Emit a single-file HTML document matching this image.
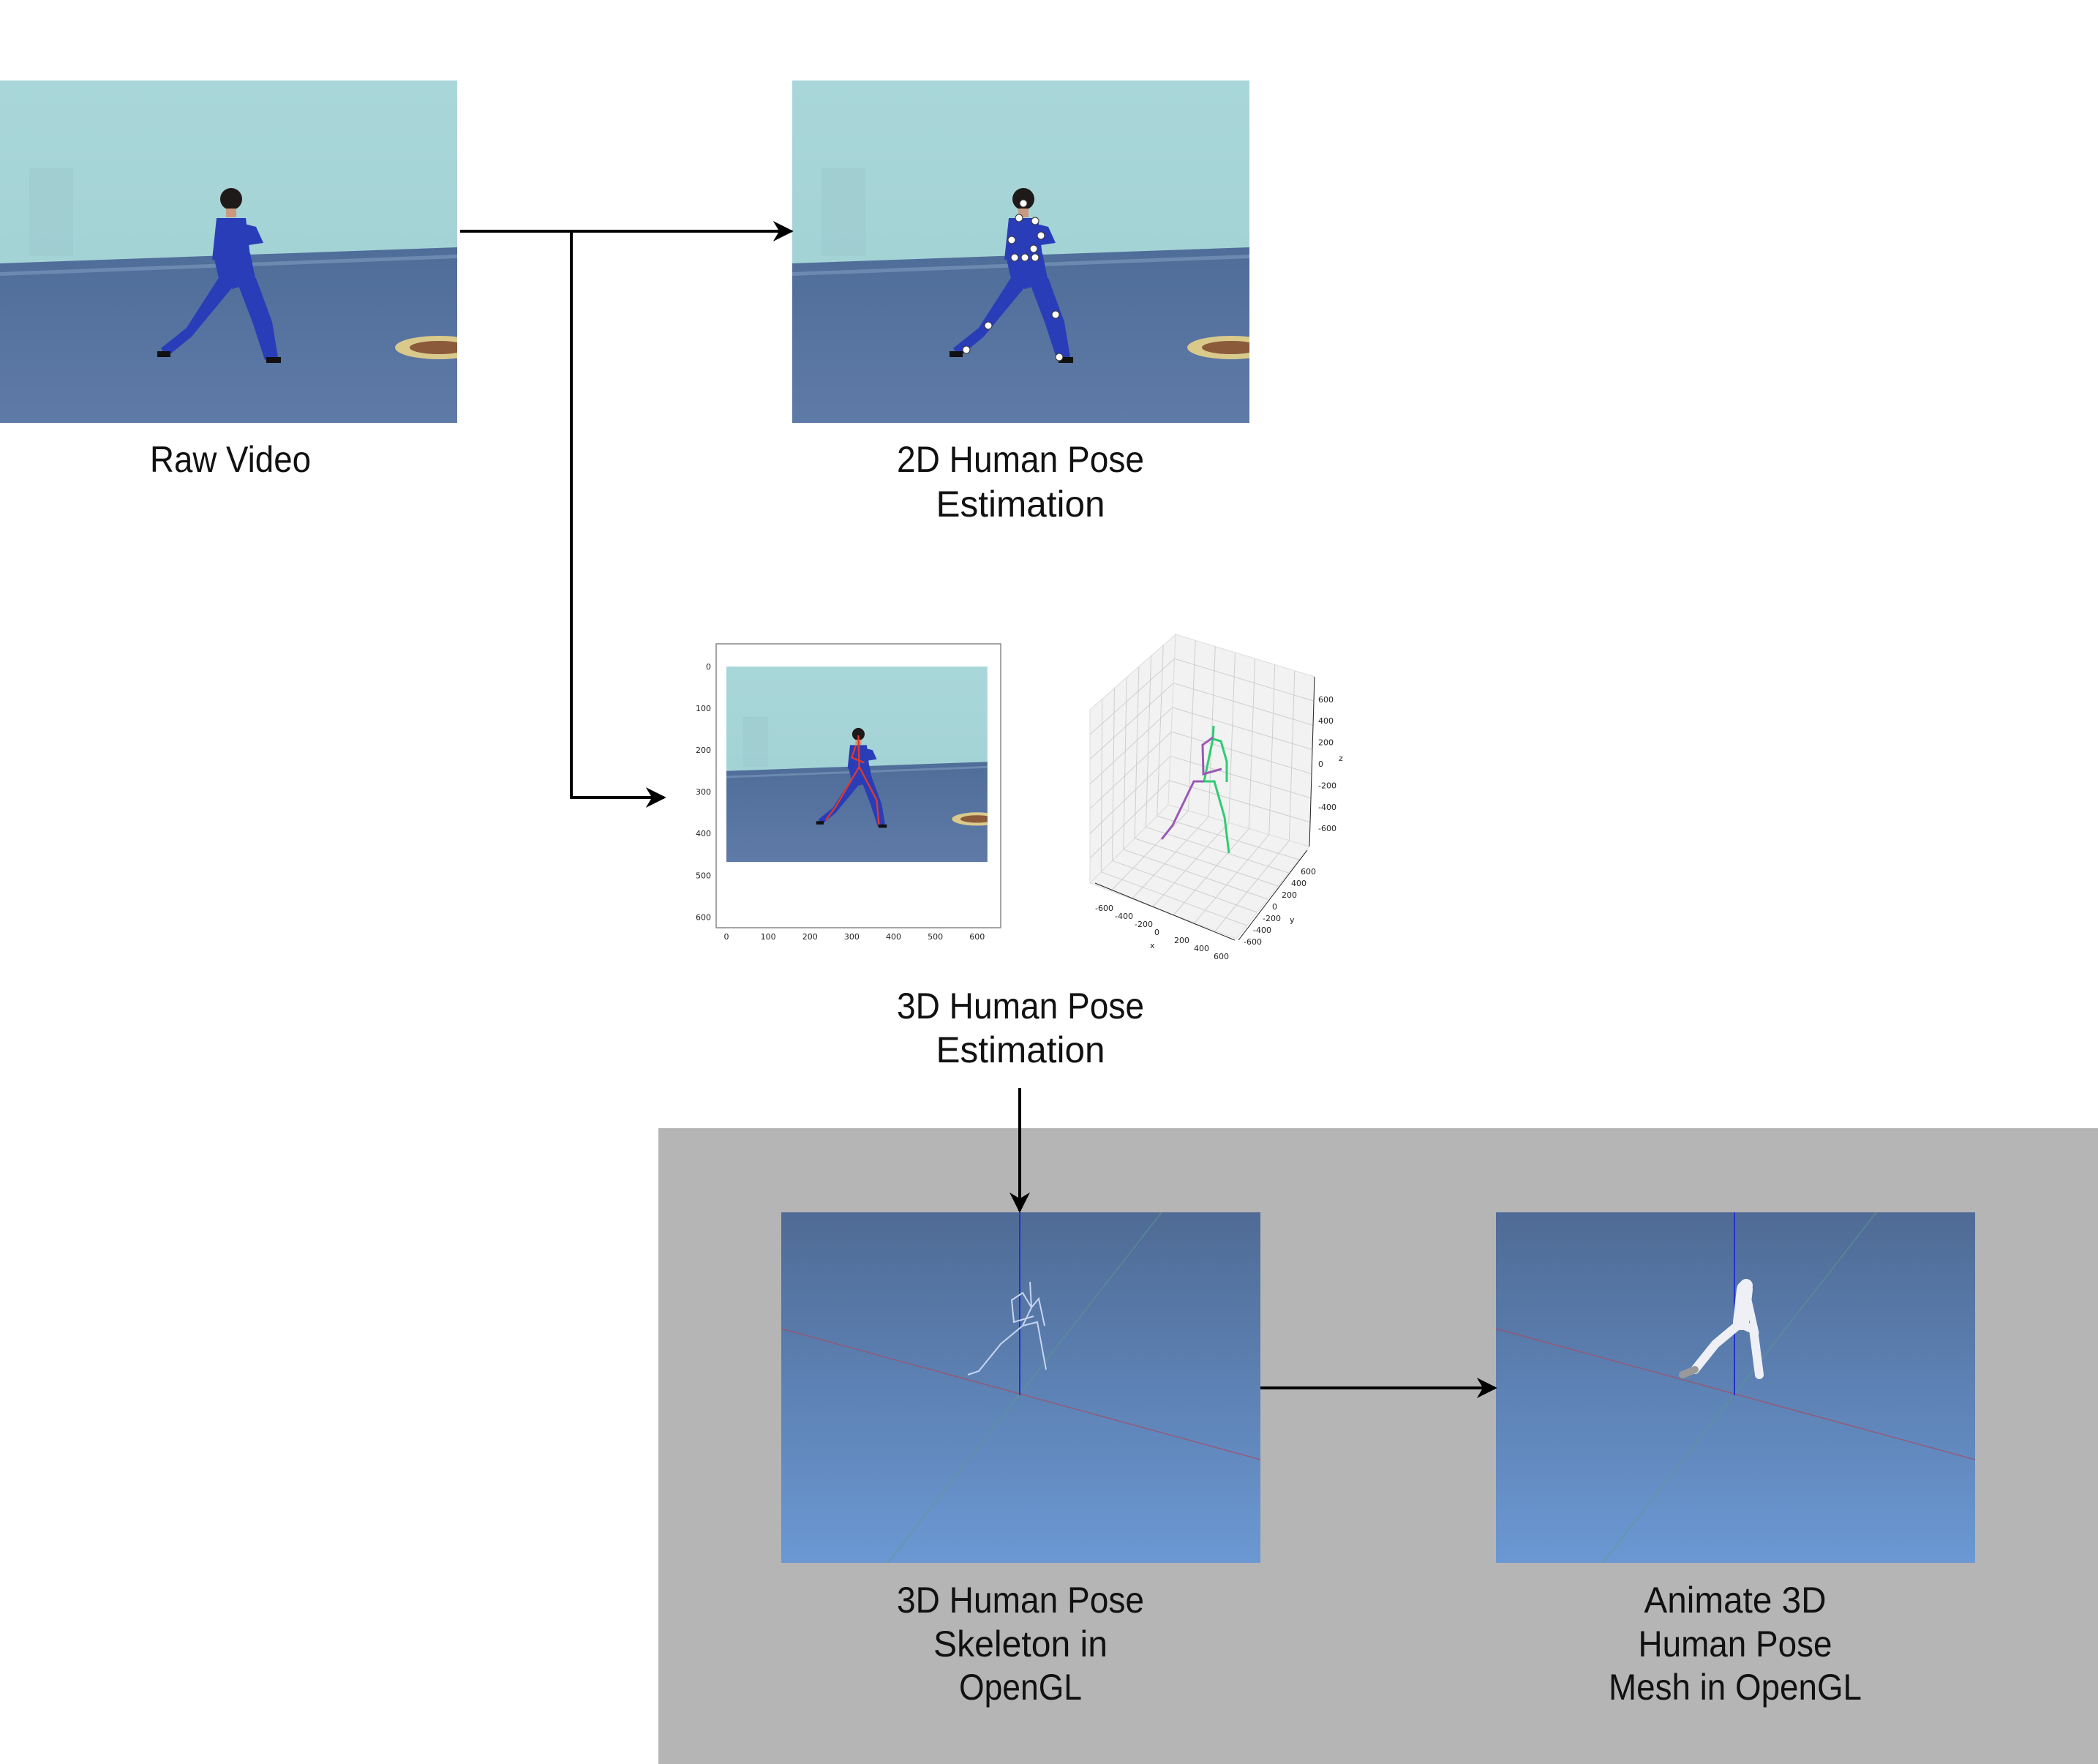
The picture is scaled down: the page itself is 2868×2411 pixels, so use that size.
<!DOCTYPE html>
<html><head><meta charset="utf-8"><style>
html,body{margin:0;padding:0;background:#fff}
svg{display:block}
text{font-family:"Liberation Sans",sans-serif}
.lbl{font-size:50px;fill:#111;text-anchor:middle}
.tk{font-family:"DejaVu Sans",sans-serif;font-size:11px;fill:#222}
</style></head><body>
<svg id="s" width="2868" height="2411" viewBox="0 0 2868 2411" xmlns="http://www.w3.org/2000/svg">
<defs>
<linearGradient id="wall" x1="0" y1="0" x2="0" y2="1"><stop offset="0" stop-color="#a9d7d9"/><stop offset="1" stop-color="#9fcfd2"/></linearGradient>
<linearGradient id="floor" x1="0" y1="0" x2="0" y2="1"><stop offset="0" stop-color="#4f6d99"/><stop offset="1" stop-color="#5f7aa6"/></linearGradient>
<linearGradient id="gl" x1="0" y1="0" x2="0" y2="1"><stop offset="0" stop-color="#4f6b95"/><stop offset="1" stop-color="#6b98d3"/></linearGradient>
<marker id="ah" viewBox="0 0 10 10" refX="9" refY="5" markerWidth="34" markerHeight="28" markerUnits="userSpaceOnUse" orient="auto"><path d="M0,0 L10,5 L0,10 L3,5 z" fill="#000"/></marker>
<clipPath id="sc"><rect width="625" height="468"/></clipPath>
<g id="scene" clip-path="url(#sc)">
<rect width="625" height="468" fill="url(#wall)"/>
<rect x="40" y="120" width="60" height="120" fill="#9cc8cb" opacity="0.5"/>
<polygon points="0,250 625,228 625,468 0,468" fill="url(#floor)"/>
<polygon points="0,262 625,238 625,243 0,267" fill="#7f9cc0" opacity="0.6"/>
<ellipse cx="600" cy="365" rx="60" ry="16" fill="#d9c98a"/>
<ellipse cx="600" cy="365" rx="40" ry="9" fill="#8a5a3a"/>
<g fill="#2a3db8">
<circle cx="316" cy="162" r="15" fill="#1f1a1a"/>
<rect x="309" y="175" width="14" height="12" fill="#c99a80"/>
<polygon points="296,188 336,188 342,240 290,245"/>
<polygon points="292,240 342,236 350,275 318,285 300,275"/>
<polygon points="300,268 320,280 262,350 228,378 220,366 255,338"/>
<polygon points="322,270 350,270 372,330 380,378 362,382 345,330"/>
<polygon points="330,195 350,200 360,222 340,225"/>
</g>
<rect x="215" y="370" width="18" height="8" fill="#111"/>
<rect x="364" y="378" width="20" height="8" fill="#111"/>
</g>
</defs>

<g transform="translate(0,110)"><use href="#scene"/></g>
<text class="lbl" x="315" y="645" textLength="220" lengthAdjust="spacingAndGlyphs">Raw Video</text>

<g transform="translate(1083,110)"><use href="#scene"/>
<g fill="#fff" stroke="#333" stroke-width="1">
<circle cx="316" cy="168" r="5"/><circle cx="310" cy="188" r="5"/><circle cx="332" cy="192" r="5"/><circle cx="300" cy="218" r="5"/><circle cx="340" cy="212" r="5"/><circle cx="330" cy="230" r="5"/><circle cx="304" cy="242" r="5"/><circle cx="318" cy="242" r="5"/><circle cx="332" cy="242" r="5"/><circle cx="268" cy="335" r="5"/><circle cx="360" cy="320" r="5"/><circle cx="238" cy="368" r="5"/><circle cx="365" cy="378" r="5"/></g></g>
<text class="lbl" x="1395" y="645" textLength="338" lengthAdjust="spacingAndGlyphs">2D Human Pose</text>
<text class="lbl" x="1395" y="706" textLength="231" lengthAdjust="spacingAndGlyphs">Estimation</text>

<g fill="none" stroke="#000" stroke-width="4">
<line x1="629" y1="316" x2="1082" y2="316" marker-end="url(#ah)"/>
<polyline points="781,316 781,1090 908,1090" marker-end="url(#ah)"/>
</g>

<g>
<rect x="979" y="880" width="389" height="388" fill="#fff" stroke="#888" stroke-width="1.5"/>
<g transform="translate(993,911) scale(0.571,0.571)"><use href="#scene"/>
<g stroke="#e03a2a" stroke-width="4" fill="none"><polyline points="316,165 318,240 262,335 238,368"/><polyline points="318,240 360,320 365,378"/><polyline points="310,188 300,218 330,230"/></g></g>
<g id="ax2d"></g>
</g>

<g id="plot3d"></g>
<text class="lbl" x="1395" y="1392" textLength="338" lengthAdjust="spacingAndGlyphs">3D Human Pose</text>
<text class="lbl" x="1395" y="1452" textLength="231" lengthAdjust="spacingAndGlyphs">Estimation</text>

<rect x="900" y="1542" width="1968" height="869" fill="#b5b5b5"/>
<g transform="translate(1068,1657)">
<rect width="655" height="479" fill="url(#gl)"/>
<line x1="146" y1="479" x2="520" y2="0" stroke="#5d9a8a" stroke-width="1.5" opacity="0.6"/>
<line x1="0" y1="159" x2="655" y2="338" stroke="#a0506a" stroke-width="1.5" opacity="0.8"/>
<line x1="326" y1="0" x2="326" y2="250" stroke="#2233cc" stroke-width="2"/>
<g stroke="#c8d4f0" stroke-width="2" fill="none"><polyline points="340,95 342,130 330,155 300,180 270,217 255,222"/><polyline points="330,155 350,150 362,215"/><polyline points="342,130 330,110 315,120 318,150 345,142"/><polyline points="342,130 352,118 360,155"/></g>
</g>
<g transform="translate(2045,1657)">
<rect width="655" height="479" fill="url(#gl)"/>
<line x1="146" y1="479" x2="520" y2="0" stroke="#5d9a8a" stroke-width="1.5" opacity="0.6"/>
<line x1="0" y1="159" x2="655" y2="338" stroke="#a0506a" stroke-width="1.5" opacity="0.8"/>
<line x1="326" y1="0" x2="326" y2="250" stroke="#2233cc" stroke-width="2"/>
<g stroke="#eef0f6" stroke-linecap="round" fill="none"><polyline points="340,105 335,150" stroke-width="22"/><polyline points="330,155 300,180 272,215" stroke-width="12"/><polyline points="340,155 352,160 360,222" stroke-width="12"/><polyline points="345,120 355,165" stroke-width="9"/><circle cx="342" cy="100" r="9" fill="#eef0f6" stroke="none"/></g>
<line x1="272" y1="215" x2="255" y2="222" stroke="#999" stroke-width="10" stroke-linecap="round"/>
</g>
<line x1="1394" y1="1487" x2="1394" y2="1655" stroke="#000" stroke-width="4" marker-end="url(#ah)"/>
<line x1="1723" y1="1897" x2="2044" y2="1897" stroke="#000" stroke-width="4" marker-end="url(#ah)"/>

<text class="lbl" x="1395" y="2204" textLength="338" lengthAdjust="spacingAndGlyphs">3D Human Pose</text>
<text class="lbl" x="1395" y="2264" textLength="238" lengthAdjust="spacingAndGlyphs">Skeleton in</text>
<text class="lbl" x="1395" y="2323" textLength="168" lengthAdjust="spacingAndGlyphs">OpenGL</text>
<text class="lbl" x="2372" y="2204" textLength="249" lengthAdjust="spacingAndGlyphs">Animate 3D</text>
<text class="lbl" x="2372" y="2264" textLength="265" lengthAdjust="spacingAndGlyphs">Human Pose</text>
<text class="lbl" x="2372" y="2323" textLength="346" lengthAdjust="spacingAndGlyphs">Mesh in OpenGL</text>
</svg>
<script>
const ticks2dX=[0,100,200,300,400,500,600];
const ticks2dY=[0,100,200,300,400,500,600];
const zTicks=[600,400,200,0,-200,-400,-600];
const xTicks=[-600,-400,-200,0,200,400,600];
const yTicks=[600,400,200,0,-200,-400,-600];
const NS='http://www.w3.org/2000/svg';
function mk(t,a,p){const e=document.createElementNS(NS,t);for(const k in a)e.setAttribute(k,a[k]);p.appendChild(e);return e;}
const a2=document.getElementById('ax2d');
const px=v=>993+v*357/625, py=v=>911+v*267/468;
ticks2dX.forEach(v=>{const t=mk('text',{x:px(v),y:1284,'text-anchor':'middle',class:'tk'},a2);t.textContent=v;

});
ticks2dY.forEach(v=>{const t=mk('text',{x:972,y:py(v)+4,'text-anchor':'end',class:'tk'},a2);t.textContent=v;

});
const g=document.getElementById('plot3d');
const L=[[1490,970],[1607,867],[1597,1100],[1490,1207]];
const R=[[1607,867],[1797,925],[1790,1157],[1597,1100]];
const F=[[1490,1207],[1597,1100],[1790,1157],[1690,1283]];
const lerp=(a,b,t)=>[a[0]+(b[0]-a[0])*t,a[1]+(b[1]-a[1])*t];
[L,R,F].forEach(P=>{mk('polygon',{points:P.map(p=>p.join(',')).join(' '),fill:'#f2f2f2',stroke:'#ddd'},g);
for(let i=1;i<7;i++){const t=i/7;let a=lerp(P[0],P[1],t),b=lerp(P[3],P[2],t);mk('line',{x1:a[0],y1:a[1],x2:b[0],y2:b[1],stroke:'#cfcfcf','stroke-width':1},g);
a=lerp(P[0],P[3],t);b=lerp(P[1],P[2],t);mk('line',{x1:a[0],y1:a[1],x2:b[0],y2:b[1],stroke:'#cfcfcf','stroke-width':1},g);}});
mk('line',{x1:1797,y1:925,x2:1790,y2:1157,stroke:'#222'},g);
mk('line',{x1:1497,y1:1207,x2:1688,y2:1285,stroke:'#222'},g);
mk('line',{x1:1693,y1:1285,x2:1787,y2:1162,stroke:'#222'},g);
const zy=v=>1044-v*0.147;
zTicks.forEach(v=>{const t=mk('text',{x:1802,y:zy(v)+4,class:'tk'},g);t.textContent=v;

});
const xt=v=>[1500+v*0.0,0];
xTicks.forEach((v,i)=>{const x=1497+i*27, y=1245+i*11;const t=mk('text',{x:x,y:y,class:'tk'},g);t.textContent=v;

});
yTicks.forEach((v,i)=>{const x=1778-i*13, y=1195+i*16;const t=mk('text',{x:x,y:y,class:'tk'},g);t.textContent=v;

});
[['z',1830,1040],['x',1572,1296],['y',1763,1261]].forEach(a=>{const t=mk('text',{x:a[1],y:a[2],class:'tk'},g);t.textContent=a[0];

});
const green=[[1659,992],[1658,1010],[1669,1013],[1677,1041],[1677,1069]];
const green2=[[1658,1010],[1646,1068],[1660,1068],[1674,1117],[1680,1166]];
const purp=[[1658,1008],[1644,1018],[1645,1058],[1670,1051]];
const purp2=[[1646,1068],[1632,1068],[1603,1128],[1588,1147]];
[[green,'#2ecc71'],[green2,'#2ecc71'],[purp,'#9b59b6'],[purp2,'#9b59b6']].forEach(s=>{const e=mk('polyline',{points:s[0].map(p=>p.join(',')).join(' '),fill:'none',stroke:s[1],'stroke-width':3},g);

});
</script>
</body></html>
